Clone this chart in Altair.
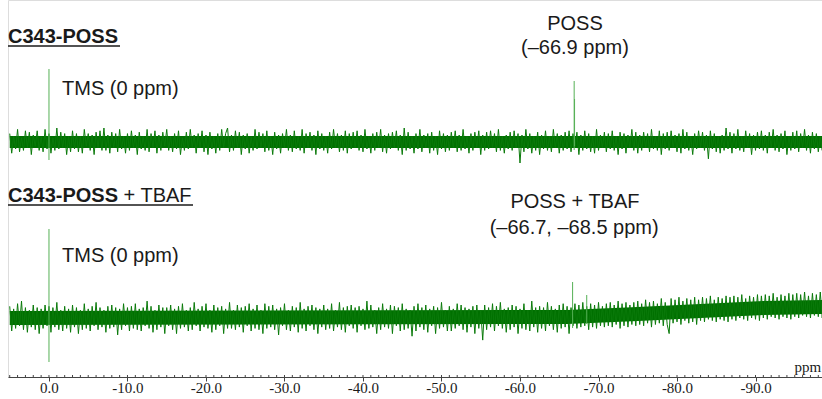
import altair as alt
import pandas as pd
import numpy as np

# ---------------- data ----------------
# spectra sampled every 0.25 ppm starting at +5.0 ppm
ppm_start, ppm_step = 5.0, -0.25

# C343-POSS (upper trace): intensity around its baseline (arbitrary units)
noise_top = [
    6, -8, 4, -5, 9, -7, 3, -6, 8, -4, 7, -9, 5, -3, 8, -6,
    4, -7, 9, -5, 6, -8, 3, -6, 10, -5, 7, -4, 6, -9, 4, -7,
    8, -5, 6, -7, 4, -8, 9, -3, 6, -6, 5, -9, 7, -4, 8, -6,
    10, -6, 5, -8, 7, -4, 6, -7, 9, -5, 4, -8, 6, -6, 8, -4,
    5, -9, 7, -5, 4, -6, 9, -7, 6, -4, 8, -8, 5, -6, 7, -3,
    9, -6, 4, -7, 6, -5, 8, -9, 3, -6, 7, -5, 9, -4, 5, -8,
    6, -4, 8, -7, 5, -9, 7, -5, 4, -8, 6, -6, 9, -4, 6, 10,
    -7, 5, -6, 8, -4, 7, -9, 5, -5, 6, -8, 4, -6, 9, -5, 7,
    -4, 6, -7, 8, -6, 4, -9, 7, -5, 5, -8, 6, -4, 9, -6, 5,
    -7, 8, -5, 4, -6, 9, -8, 6, -4, 7, -6, 5, -9, 8, -5, 6,
    -6, 4, -8, 7, -5, 9, -4, 6, -7, 5, -6, 8, -8, 6, -5, 7,
    -4, 8, -6, 5, -7, 9, -5, 4, -8, 6, -6, 7, -4, 9, -7, 5,
    -8, 6, -5, 7, -4, 8, -6, 5, -9, 10, -6, 7, -5, 4, -8, 6,
    -5, 9, -7, 5, -4, 6, -8, 7, -6, 4, -9, 8, -5, 6, -7, 5,
    -6, 7, -4, 8, -7, 5, -6, 9, -5, 4, -8, 6, -6, 7, -4, 8,
    -9, 5, -6, 7, -5, 8, -4, 6, -7, 9, -6, 4, -8, 5, -5, 7,
    -6, 8, -4, 6, -15, 5, -7, 9, -5, 6, -8, 4, -6, 7, -9, 5,
    -5, 8, -6, 4, -7, 9, -4, 6, -8, 5, -6, 7, -5, 8, -7, 6,
    -4, 7, -9, 5, -6, 8, -5, 6, -7, 4, -8, 9, -6, 5, -4, 7,
    -7, 6, -5, 8, -6, 4, -9, 7, -5, 6, -8, 5, -4, 9, -6, 7,
    -8, 5, -6, 7, -4, 6, -7, 9, -5, 4, -6, 8, -9, 6, -5, 7,
    -6, 8, -4, 5, -7, 6, -8, 9, -5, 7, -6, 4, -9, 6, -5, 8,
    -4, 7, -6, 5, -12, 8, -5, 6, -7, 4, -8, 5, -6, 10, -5, 7,
    -8, 6, -5, 9, -6, 4, -7, 8, -4, 6, -9, 5, -6, 7, -5, 8,
    -6, 5, -8, 7, -4, 9, -6, 5, -7, 6, -5, 8, -9, 4, -6, 7,
    -5, 8, -7, 6, -4, 9, -6, 5, -8, 7, -5, 6, -7, 4, -6, 8,
]

# C343-POSS + TBAF (lower trace), baseline roll included (arbitrary units)
noise_bottom = [
    9, -10, 7, -8, 11, -6, 13, -9, 8, -11, 6, -7, 10, -9, 8, -12,
    7, -8, 10, -6, 9, -11, 8, -7, 12, -9, 6, -10, 9, -8, 7, -11,
    10, -7, 8, -12, 6, -9, 11, -8, 7, -10, 9, -6, 12, -9, 8, -7,
    6, -11, 9, -8, 10, -7, 8, -13, 7, -9, 11, -6, 8, -10, 9, -8,
    11, -9, 7, -10, 8, -6, 13, -8, 9, -11, 6, -9, 10, -7, 8, -12,
    8, -6, 10, -9, 7, -12, 9, -8, 11, -7, 6, -10, 8, -9, 12, -6,
    7, -10, 9, -7, 11, -8, 6, -11, 10, -9, 8, -6, 9, -12, 7, -8,
    12, -8, 6, -9, 10, -7, 8, -11, 9, -6, 11, -10, 7, -8, 10, -9,
    6, -12, 11, -8, 9, -7, 10, -9, 7, -13, 8, -6, 11, -9, 6, -10,
    9, -7, 8, -11, 12, -8, 7, -10, 9, -6, 10, -9, 8, -12, 7, -7,
    10, -9, 7, -8, 11, -10, 6, -7, 12, -9, 8, -11, 9, -6, 10, -8,
    8, -11, 9, -6, 7, -9, 13, -8, 10, -7, 6, -12, 8, -9, 11, -7,
    7, -8, 10, -12, 9, -6, 8, -10, 11, -9, 7, -8, 6, -14, 9, -10,
    11, -7, 8, -9, 10, -11, 7, -6, 9, -12, 8, -8, 12, -7, 6, -10,
    9, -10, 7, -8, 11, -6, 10, -9, 8, -11, 7, -7, 9, -12, 10, -8,
    6, -17, 10, -9, 8, -7, 11, -10, 9, -6, 12, -8, 7, -11, 8, -9,
    10, -7, 9, -12, 7, -8, 11, -9, 6, -10, 13, -7, 8, -11, 9, -8,
    8, -10, 12, -6, 9, -9, 7, -11, 10, -8, 11, -7, 9, -12, 8, -6,
    11, -8, 10, -7, 12, -6, 9, -9, 11, -7, 10, -8, 12, -6, 9, -7,
    11, -6, 12, -7, 10, -5, 13, -8, 11, -6, 12, -7, 10, -5, 12, -6,
    13, -5, 11, -6, 14, -4, 12, -7, 13, -5, 11, -4, 15, -6, 12, -5,
    -12, 15, -4, 14, -3, 16, -5, 13, -2, 15, -4, 14, -3, 16, -5, 14,
    -2, 16, -3, 15, -1, 17, -2, 14, -3, 16, -1, 15, -2, 17, -3, 16,
    -1, 17, -2, 16, 0, 18, -1, 15, -2, 17, 0, 16, -1, 18, -2, 17,
    0, 18, -1, 17, 1, 19, 0, 16, -1, 18, 1, 17, 0, 19, -1, 18,
    1, 19, 0, 18, 2, 20, 1, 17, 0, 19, 2, 18, 1, 20, 0, 19,
]

# dense noise core: centre line (baseline, px) and half width
core_top_ppm = [5.0, -98.75]
core_top_center = [0, 0]
core_top_half = 6
core_bot_ppm = [5.0, -66.0, -75.0, -83.0, -91.0, -98.75]
core_bot_center = [0, 1, 4, 7, 10, 11]
core_bot_half = 7

# sharp signals (TMS, POSS), px above baseline
peaks_top_ppm = [0.0, -66.9, -66.95]
peaks_top_hi = [73, 61, 43]
peaks_top_lo = [-18, -8, -4]
peaks_bot_ppm = [0.0, -66.7, -68.5]
peaks_bot_hi = [89, 36, 23]
peaks_bot_lo = [-44, -10, -6]

tick_values = [0, -10, -20, -30, -40, -50, -60, -70, -80, -90]

# ---------------- layout constants ----------------
OFF_TOP, OFF_BOT = 235, 59          # vertical offsets of the two stacked traces
GAIN_TOP, GAIN_BOT = 1.4, 1.3       # vertical display gain of the noise traces
X_DOMAIN = [5.22, -98.47]
Y_DOMAIN = [0, 377]
GREEN = "#0a7a0a"
CORE = "#007000"
PEAK = "#55b055"
TXT = "#1a1a1a"
SANS = "Liberation Sans"
SERIF = "Liberation Serif"


def grid(n):
    return ppm_start + ppm_step * np.arange(n)


spec = pd.concat([
    pd.DataFrame({"ppm": grid(len(noise_top)),
                  "v": np.array(noise_top) * GAIN_TOP + OFF_TOP, "trace": "top"}),
    pd.DataFrame({"ppm": grid(len(noise_bottom)),
                  "v": np.array(noise_bottom) * GAIN_BOT + OFF_BOT, "trace": "bot"}),
])
core = pd.concat([
    pd.DataFrame({"ppm": core_top_ppm,
                  "lo": np.array(core_top_center) + OFF_TOP - core_top_half,
                  "hi": np.array(core_top_center) + OFF_TOP + core_top_half, "trace": "top"}),
    pd.DataFrame({"ppm": core_bot_ppm,
                  "lo": np.array(core_bot_center) + OFF_BOT - core_bot_half,
                  "hi": np.array(core_bot_center) + OFF_BOT + core_bot_half, "trace": "bot"}),
])
peaks = pd.concat([
    pd.DataFrame({"ppm": peaks_top_ppm, "hi": np.array(peaks_top_hi) + OFF_TOP,
                  "lo": np.array(peaks_top_lo) + OFF_TOP}),
    pd.DataFrame({"ppm": peaks_bot_ppm, "hi": np.array(peaks_bot_hi) + OFF_BOT,
                  "lo": np.array(peaks_bot_lo) + OFF_BOT}),
])
minor = pd.DataFrame({"ppm": np.arange(5, -99, -1)})

xs = alt.Scale(domain=X_DOMAIN, nice=False, zero=False)
ys = alt.Scale(domain=Y_DOMAIN, nice=False, zero=False)

x_axis = alt.Axis(
    values=tick_values, title=None, grid=False,
    labelExpr="datum.value == 0 ? '0.0' : '-' + format(abs(datum.value), '.1f')",
    labelFont=SERIF, labelFontSize=15, labelColor=TXT, labelPadding=11,
    labelBaseline="alphabetic", tickSize=4, tickColor="#444", domainColor="#444",
    labelFlush=False, labelOverlap=False,
)

core_layer = alt.Chart(core).mark_area(color=CORE, interpolate="linear").encode(
    x=alt.X("ppm:Q", scale=xs, axis=x_axis),
    y=alt.Y("lo:Q", scale=ys, axis=None),
    y2="hi:Q",
    detail="trace:N",
)

line_layer = alt.Chart(spec).mark_line(color=GREEN, strokeWidth=1, clip=True).encode(
    x=alt.X("ppm:Q", scale=xs),
    y=alt.Y("v:Q", scale=ys),
    detail="trace:N",
    order=alt.Order("ppm:Q", sort="descending"),
)

peak_layer = alt.Chart(peaks).mark_rule(color=PEAK, strokeWidth=1).encode(
    x=alt.X("ppm:Q", scale=xs),
    y=alt.Y("lo:Q", scale=ys),
    y2="hi:Q",
)

minor_layer = alt.Chart(minor).mark_rule(color="#444", strokeWidth=1).encode(
    x=alt.X("ppm:Q", scale=xs),
    y=alt.datum(0),
    y2=alt.datum(2),
)


def label(txt, x, y, align="left", bold=False, size=20, font=SANS):
    return alt.Chart().mark_text(
        text=txt, align=align, baseline="alphabetic", font=font, fontSize=size,
        fontWeight="bold" if bold else "normal", color=TXT,
    ).encode(x=alt.datum(x), y=alt.datum(y))


def underline(x1, x2, y):
    return alt.Chart().mark_rule(color=TXT, strokeWidth=1.3).encode(
        x=alt.datum(x1), x2=alt.datum(x2), y=alt.datum(y)
    )


texts = [
    label("C343-POSS", 5.22, 334, bold=True),
    underline(5.22, -9.05, 331),
    label("TMS (0 ppm)", -1.66, 282),
    label("POSS", -67.0, 347, align="center"),
    label("(\u201366.9 ppm)", -67.0, 323, align="center"),
    label("C343-POSS", 5.22, 175, bold=True),
    label("+ TBAF", -9.5, 175),
    underline(5.22, -18.35, 172),
    label("TMS (0 ppm)", -1.66, 115),
    label("POSS + TBAF", -67.0, 169, align="center"),
    label("(\u201366.7, \u201368.5 ppm)", -66.9, 143, align="center"),
    label("ppm", -98.35, 5.5, align="right", size=15, font=SERIF),
]

chart = alt.layer(core_layer, line_layer, peak_layer, minor_layer, *texts).properties(
    width=814, height=377, autosize="none",
    padding={"left": 8, "right": 0, "top": 0, "bottom": 22},
).configure_view(stroke=None).configure(background="white")

chart.save("out.html", embed_options={"renderer": "svg", "actions": False})
